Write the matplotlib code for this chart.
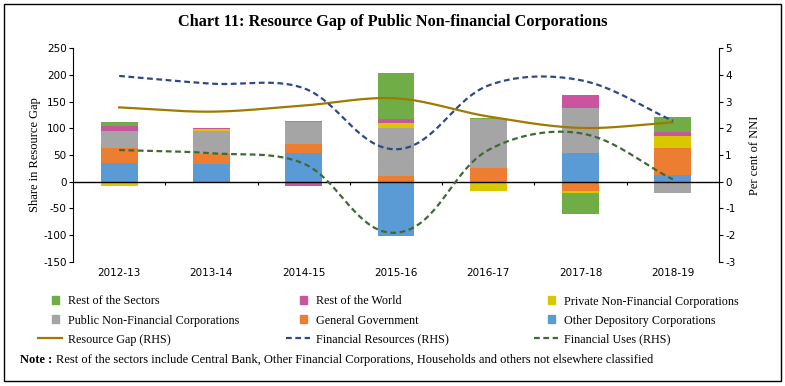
import numpy as np
import matplotlib
matplotlib.use("Agg")
import matplotlib.pyplot as plt
from matplotlib.patches import Rectangle
from matplotlib.lines import Line2D
from matplotlib.legend_handler import HandlerPatch

plt.rcParams["axes.unicode_minus"] = False

# ---- data ----
years = ["2012-13", "2013-14", "2014-15", "2015-16", "2016-17", "2017-18", "2018-19"]

# shares in resource gap, stacked in this order (LHS)
other_depository = [35, 33, 53, -102, -2, 54, 12]
general_govt = [27, 18, 18, 10, 26, -18, 51]
public_nfc = [33, 43, 41, 90, 91, 84, -21]
private_nfc = [-9, 4, -3, 10, -16, -3, 22]
rest_of_world = [10, 2.5, -6, 8, 0, 24, 7]
rest_of_sectors = [6, 0, 1, 85, 2, -39, 29]

# per cent of NNI (RHS)
resource_gap = [2.78, 2.62, 2.85, 3.12, 2.44, 2.01, 2.22]
fin_resources = [3.96, 3.67, 3.5, 1.21, 3.6, 3.8, 2.28]
fin_uses = [1.18, 1.06, 0.67, -1.92, 1.18, 1.81, 0.08]

bar_series = [
    ("Other Depository Corporations", other_depository, "#5B9BD5"),
    ("General Government", general_govt, "#ED7D31"),
    ("Public Non-Financial Corporations", public_nfc, "#A5A5A5"),
    ("Private Non-Financial Corporations", private_nfc, "#D9C800"),
    ("Rest of the World", rest_of_world, "#C9559F"),
    ("Rest of the Sectors", rest_of_sectors, "#70AD47"),
]

serif = "Liberation Serif"


def smooth(a, x, y, n=40):
    # excel-like smoothed line, built in display space so arm lengths follow segment lengths
    p = a.transData.transform(np.column_stack([x, y]).astype(float))
    out = []
    for i in range(len(p) - 1):
        p0 = p[i - 1] if i > 0 else p[i]
        p1, p2 = p[i], p[i + 1]
        p3 = p[i + 2] if i + 2 < len(p) else p[i + 1]
        seg_len = np.hypot(*(p2 - p1))
        d1 = (p2 - p0) / np.hypot(*(p2 - p0))
        d2 = (p3 - p1) / np.hypot(*(p3 - p1))
        c1 = p1 + d1 * seg_len / 3
        c2 = p2 - d2 * seg_len / 3
        t = np.linspace(0, 1, n)[:, None]
        seg = ((1 - t) ** 3 * p1 + 3 * (1 - t) ** 2 * t * c1
               + 3 * (1 - t) * t ** 2 * c2 + t ** 3 * p2)
        out.append(seg if i == 0 else seg[1:])
    out = a.transData.inverted().transform(np.vstack(out))
    return out[:, 0], out[:, 1]


fig = plt.figure(figsize=(7.85, 3.86), dpi=100)
ax = fig.add_axes([73 / 785, 1 - 261.5 / 386, 646 / 785, 213.3 / 386])
ax2 = ax.twinx()

x = np.arange(len(years))
pos_bottom = np.zeros(len(years))
neg_bottom = np.zeros(len(years))
for name, vals, color in bar_series:
    v = np.array(vals, dtype=float)
    bottom = np.where(v >= 0, pos_bottom, neg_bottom)
    ax.bar(x, v, 0.4, bottom=bottom, color=color, label=name, zorder=2)
    pos_bottom += np.clip(v, 0, None)
    neg_bottom += np.clip(v, None, 0)

ax.axhline(0, color="black", lw=1, zorder=3)
ax.vlines(x[:-1] + 0.5, -7, 0, color="black", lw=0.8, zorder=3)

ax.set_xlim(-0.5, len(years) - 0.5)
ax.set_ylim(-150, 250)
ax.set_yticks(np.arange(-150, 251, 50))
ax.set_xticks(x)
ax.set_xticklabels(years)
ax2.set_ylim(-3, 5)
ax2.set_yticks(np.arange(-3, 6, 1))

line_styles = [
    ("Resource Gap (RHS)", resource_gap, "#A07A00", "-"),
    ("Financial Resources (RHS)", fin_resources, "#2E4A86", (0, (2.6, 1.6))),
    ("Financial Uses (RHS)", fin_uses, "#3F6B32", (0, (2.6, 1.6))),
]
for name, vals, color, ls in line_styles:
    sx, sy = smooth(ax2, x, vals)
    ax2.plot(sx, sy, color=color, lw=1.6, ls=ls, label=name)

for a in (ax, ax2):
    a.spines["top"].set_visible(False)
    a.spines["bottom"].set_visible(False)
ax.spines["right"].set_visible(False)
ax2.spines["left"].set_visible(False)
ax.tick_params(axis="y", length=3, width=0.8, pad=1.5, labelsize=7.5)
ax.tick_params(axis="x", length=0, pad=5, labelsize=7.5)
ax2.tick_params(axis="y", length=3, width=0.8, pad=1.5, labelsize=7.5)

ax.set_ylabel("Share in Resource Gap", family=serif, fontsize=9)
ax.yaxis.set_label_coords(-0.05, 0.5)
ax2.set_ylabel("Per cent of NNI", family=serif, fontsize=9)
ax2.yaxis.set_label_coords(1.047, 0.5)

fig.text(0.5, 1 - 22 / 386, "Chart 11: Resource Gap of Public Non-financial Corporations",
         family=serif, weight="bold", fontsize=11.7, ha="center", va="center")


# legend: squares sit at the right end of the handle area
def square(legend, orig_handle, xdescent, ydescent, width, height, fontsize):
    s = 5.5
    return Rectangle((width - xdescent - s - 2, (height - s) / 2 - ydescent), s, s)


col_items = [
    [("Rest of the Sectors", "#70AD47"), ("Public Non-Financial Corporations", "#A5A5A5"), line_styles[0]],
    [("Rest of the World", "#C9559F"), ("General Government", "#ED7D31"), line_styles[1]],
    [("Private Non-Financial Corporations", "#D9C800"), ("Other Depository Corporations", "#5B9BD5"), line_styles[2]],
]
col_x = [38, 286, 534]
for cx, items in zip(col_x, col_items):
    handles, labels = [], []
    for item in items:
        if len(item) == 2:
            handles.append(Rectangle((0, 0), 1, 1, color=item[1]))
        else:
            handles.append(Line2D([], [], color=item[2], ls=item[3], lw=1.6))
        labels.append(item[0])
    fig.legend(handles, labels, loc="upper left", bbox_to_anchor=(cx / 785, 1 - 295.5 / 386),
               frameon=False, prop={"family": serif, "size": 8.7}, handlelength=2.0,
               handletextpad=0.45, labelspacing=0.58, borderpad=0, borderaxespad=0,
               handler_map={Rectangle: HandlerPatch(patch_func=square)})

note = fig.text(20 / 785, 1 - 360 / 386, "Note :", family=serif, weight="bold",
                fontsize=9, va="center")
ax.annotate("Rest of the sectors include Central Bank, Other Financial Corporations, "
            "Households and others not elsewhere classified",
            xy=(1, 0.5), xycoords=note, xytext=(3, 0), textcoords="offset points",
            family=serif, fontsize=9, va="center", annotation_clip=False)

fig.patches.append(Rectangle((4 / 785, 5 / 386), 777 / 785, 377 / 386, transform=fig.transFigure,
                             fill=False, edgecolor="black", lw=1))

fig.savefig("out.png", dpi=100)
